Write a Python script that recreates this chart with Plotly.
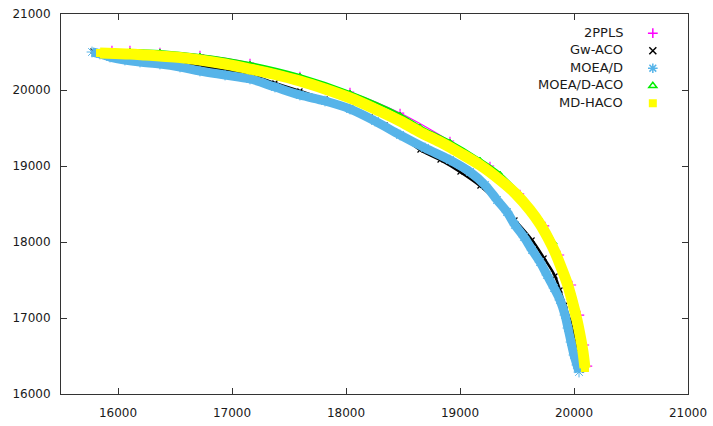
import plotly.graph_objects as go

# ---- data ----
names = ["2PPLS", "Gw-ACO", "MOEA/D", "MOEA/D-ACO", "MD-HACO"]

pp_x = [15947, 16105, 16368, 16719, 17158, 17596, 18035, 18474, 18912, 19263,
        19526, 19746, 19877, 19982, 20053, 20096, 20123]
pp_y = [20526, 20526, 20500, 20461, 20355, 20184, 19974, 19697, 19329, 19000,
        18632, 18211, 17829, 17434, 17039, 16645, 16368]

gw_x = [15781, 15886, 16018, 16193, 16368, 16544, 16719, 16939, 17158, 17377,
        17596, 17816, 18035, 18211, 18342, 18474, 18649, 18825, 19000, 19175,
        19351, 19482, 19632, 19737, 19833, 19877, 19921, 19965, 20000, 20026,
        20044, 20061]
gw_y = [20513, 20474, 20447, 20421, 20395, 20368, 20316, 20263, 20197, 20092,
        19987, 19882, 19763, 19645, 19539, 19408, 19211, 19079, 18921, 18737,
        18500, 18289, 18026, 17789, 17553, 17368, 17171, 16974, 16776, 16579,
        16421, 16316]

md_x = [15772, 15842, 15930, 16061, 16193, 16368, 16544, 16719, 16939, 17158,
        17377, 17596, 17816, 18035, 18254, 18474, 18693, 18912, 19088, 19219,
        19325, 19412, 19482, 19561, 19632, 19702, 19763, 19825, 19877, 19921,
        19947, 19974, 20000, 20026, 20044]
md_y = [20500, 20474, 20434, 20395, 20368, 20342, 20303, 20250, 20197, 20145,
        20039, 19934, 19855, 19750, 19592, 19408, 19237, 19079, 18921, 18750,
        18553, 18395, 18224, 18066, 17895, 17737, 17566, 17395, 17237, 17039,
        16868, 16684, 16513, 16382, 16289]

mda_x = [15912, 15974, 16105, 16368, 16719, 17158, 17596, 18035, 18474, 18649,
         18912, 19175, 19351, 19526, 19702, 19833, 19921, 19990, 20040, 20080,
         20100]
mda_y = [20513, 20526, 20526, 20513, 20461, 20355, 20197, 19974, 19684, 19526,
         19329, 19092, 18908, 18645, 18316, 17987, 17605, 17237, 16842, 16447,
         16342]

hh_x = [15842, 15974, 16105, 16237, 16368, 16544, 16719, 16939, 17158, 17377,
        17596, 17816, 18035, 18254, 18474, 18649, 18825, 19000, 19175, 19351,
        19482, 19614, 19702, 19772, 19833, 19886, 19939, 19982, 20026, 20061,
        20079, 20096]
hh_y = [20487, 20480, 20474, 20461, 20447, 20428, 20395, 20342, 20276, 20204,
        20118, 20013, 19895, 19750, 19592, 19447, 19316, 19171, 19013, 18816,
        18645, 18421, 18237, 18053, 17868, 17671, 17460, 17237, 16974, 16711,
        16553, 16342]

x_ticks = [16000, 17000, 18000, 19000, 20000, 21000]
y_ticks = [16000, 17000, 18000, 19000, 20000, 21000]

# ---- styles ----
styles = [
    dict(color="#ff00ff", symbol="cross-thin", size=6, lw=1.2, band=1.2, leg=7),
    dict(color="#000000", symbol="x-thin", size=5, lw=1.2, band=2.5, leg=7),
    dict(color="#56b4e9", symbol="asterisk", size=9, lw=1.0, band=9, leg=8),
    dict(color="#00ee00", symbol="triangle-up-open", size=4, lw=1.0, band=2.0, leg=7),
    dict(color="#ffff00", symbol="square", size=8, lw=0, band=11, leg=8),
]
data = [(pp_x, pp_y), (gw_x, gw_y), (md_x, md_y), (mda_x, mda_y), (hh_x, hh_y)]
legend_ids = ["legend", "legend2", "legend3", "legend4", "legend5"]

fig = go.Figure()
for name, (xs, ys), st, lid in zip(names, data, styles, legend_ids):
    fig.add_trace(go.Scatter(
        x=xs, y=ys, mode="lines", showlegend=False, hoverinfo="skip",
        line=dict(color=st["color"], width=st["band"], shape="spline")))
    marker = dict(symbol=st["symbol"], size=st["size"], color=st["color"])
    if st["lw"] > 0:
        marker["line"] = dict(color=st["color"], width=st["lw"])
    else:
        marker["line"] = dict(width=0)
    fig.add_trace(go.Scatter(
        x=xs, y=ys, mode="markers", name=name, marker=marker,
        showlegend=False))
    # key entry (same data) so each key symbol can be placed like gnuplot's key
    lmarker = dict(marker)
    lmarker["size"] = st["leg"]
    if st["lw"] > 0:
        lmarker["line"] = dict(color=st["color"], width=1.5)
    fig.add_trace(go.Scatter(
        x=xs, y=ys, mode="markers", name="", marker=lmarker,
        showlegend=True, visible="legendonly", legend=lid))

# key labels (right aligned, symbols to their right as in gnuplot)
row_y = [0.9526, 0.9066, 0.8605, 0.8145, 0.7684]
for name, yy in zip(names, row_y):
    fig.add_annotation(text=name, x=0.8995, y=yy, xref="paper", yref="paper",
                       xanchor="right", yanchor="middle", showarrow=False,
                       font=dict(family="DejaVu Sans", size=13, color="#1a1a1a"))

axis_common = dict(
    showline=True, linecolor="#333333", linewidth=1, mirror="ticks",
    ticks="inside", ticklen=6, tickcolor="#333333", tickwidth=1,
    showgrid=False, zeroline=False, automargin=False,
    tickfont=dict(family="DejaVu Sans", size=12, color="#1a1a1a"),
)
fig.update_xaxes(range=[15500, 21000], tickvals=x_ticks,
                 ticktext=[str(v) for v in x_ticks], ticklabelstandoff=8,
                 **axis_common)
fig.update_yaxes(range=[16000, 21000], tickvals=y_ticks,
                 ticktext=[str(v) for v in y_ticks], ticklabelstandoff=7,
                 **axis_common)

leg_tops = [0.9876, 0.9416, 0.8955, 0.8495, 0.8034]
leg_common = dict(x=0.912, xanchor="left", yanchor="top",
                  bgcolor="rgba(0,0,0,0)", font=dict(family="DejaVu Sans", size=10),
                  itemclick=False, itemdoubleclick=False)
layout_legends = {lid: dict(y=yt, **leg_common) for lid, yt in zip(legend_ids, leg_tops)}

fig.update_layout(
    width=713, height=426,
    margin=dict(l=61, r=25, t=14, b=32),
    paper_bgcolor="white", plot_bgcolor="white",
    showlegend=True,
    hovermode=False,
    **layout_legends,
)

post = (
    "document.body.style.margin='0';"
    "document.querySelectorAll('g.traces').forEach(function(e){e.style.opacity='1';});"
)
fig.write_html("out.html", config={"displayModeBar": False, "staticPlot": True},
               post_script=post)
